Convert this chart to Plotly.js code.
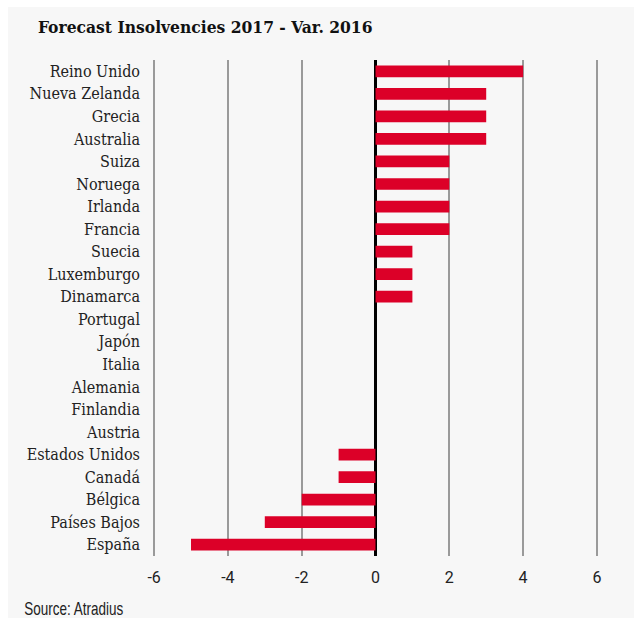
<!DOCTYPE html>
<html>
<head>
<meta charset="utf-8">
<script src="https://cdn.plot.ly/plotly-3.0.1.min.js"></script>
<style>
html,body{margin:0;padding:0;background:#ffffff;}
#chart{position:absolute;left:8px;top:7px;width:626px;height:611px;}
</style>
</head>
<body>
<div id="chart"></div>
<script>
const countries = ["Reino Unido","Nueva Zelanda","Grecia","Australia","Suiza","Noruega","Irlanda","Francia","Suecia","Luxemburgo","Dinamarca","Portugal","Japón","Italia","Alemania","Finlandia","Austria","Estados Unidos","Canadá","Bélgica","Países Bajos","España"];
const values = [4,3,3,3,2,2,2,2,1,1,1,0,0,0,0,0,0,-1,-1,-2,-3,-5];
const xTicks = [-6,-4,-2,0,2,4,6];
const titleText = "Forecast Insolvencies 2017 - Var. 2016";
const sourceText = "Source: Atradius";

const serif = "DejaVu Serif Condensed, DejaVu Serif, serif";

Plotly.newPlot("chart", [{
  type: "bar",
  orientation: "h",
  x: values,
  y: countries,
  marker: {color: "#dc0028"},
  hoverinfo: "none"
}], {
  width: 626,
  height: 611,
  paper_bgcolor: "#f7f7f7",
  plot_bgcolor: "#f7f7f7",
  margin: {l: 145, r: 36, t: 53, b: 62},
  bargap: 0.48,
  showlegend: false,
  title: {
    text: "<b>" + titleText + "</b>",
    font: {family: serif, size: 17.3, color: "#111"},
    xref: "container", x: 30/626, xanchor: "left",
    yref: "container", y: 1 - 20/611, yanchor: "middle"
  },
  xaxis: {
    range: [-6.03, 6.03],
    tickvals: xTicks,
    ticktext: xTicks.map(String),
    showgrid: true,
    gridcolor: "#9a9a9a",
    gridwidth: 2,
    zeroline: true,
    zerolinecolor: "#000000",
    zerolinewidth: 3,
    showline: false,
    ticks: "",
    ticklabelstandoff: 10,
    tickfont: {family: "Roboto, Liberation Sans, sans-serif", size: 16, color: "#222"},
    fixedrange: true
  },
  yaxis: {
    autorange: "reversed",
    type: "category",
    showgrid: false,
    zeroline: false,
    showline: false,
    ticks: "",
    ticklabelstandoff: 12,
    tickfont: {family: serif, size: 16, color: "#222"},
    fixedrange: true
  },
  annotations: [{
    text: sourceText,
    xref: "paper", yref: "paper",
    x: -151.5/445, y: -52/496,
    xanchor: "left", yanchor: "middle",
    showarrow: false,
    font: {family: "Liberation Sans, Arial, sans-serif", size: 19, color: "#222"}
  }]
}, {displayModeBar: false, staticPlot: true}).then(function (gd) {
  // condense the source line like the narrow font of the original
  const t = gd.querySelector(".annotation-text");
  if (t) {
    t.setAttribute("textLength", "99");
    t.setAttribute("lengthAdjust", "spacingAndGlyphs");
  }
});
</script>
</body>
</html>
